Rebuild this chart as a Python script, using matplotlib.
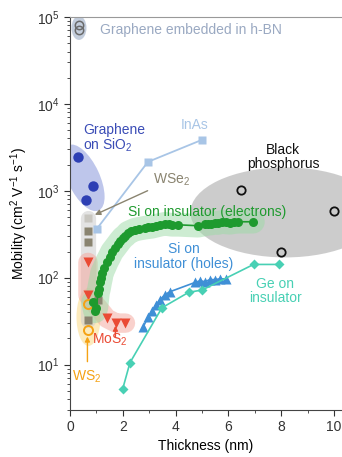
import numpy as np
import matplotlib
matplotlib.use("Agg")
import matplotlib.pyplot as plt
from matplotlib.patches import Ellipse
from matplotlib.transforms import IdentityTransform

plt.rcParams['font.family'] = ['Liberation Sans', 'DejaVu Sans']
plt.rcParams['mathtext.fontset'] = 'custom'
plt.rcParams['mathtext.rm'] = 'Liberation Sans'
plt.rcParams['mathtext.it'] = 'Liberation Sans:italic'
plt.rcParams['mathtext.default'] = 'regular'

# data (thickness in nm, mobility in cm2/Vs)
hbn_x = [0.34, 0.34]
hbn_y = [8.0e4, 7.0e4]

sio2_x = [0.30, 0.87, 0.60]
sio2_y = [2450, 1140, 790]

inas_x = [1.02, 2.95, 5.0]
inas_y = [366, 2150, 3860]

wse2_x = [0.7, 0.7, 0.7, 0.7, 1.05]
wse2_y = [490, 340, 255, 33, 56]

mos2_x = [0.68, 0.68, 1.4, 1.75, 2.1]
mos2_y = [150, 63, 34, 30, 30]

ws2_x = [0.7, 0.7]
ws2_y = [50, 25]

sie_x = [0.87, 0.95, 1.0, 1.06, 1.1, 1.14, 1.18, 1.21, 1.3, 1.4, 1.5, 1.59, 1.7,
         1.82, 1.9, 2.0, 2.1, 2.2, 2.3, 2.46, 2.6, 2.84, 2.95, 3.1, 3.25, 3.41,
         3.6, 3.75, 3.86, 4.09, 4.85, 5.1, 5.23, 5.35, 5.49, 5.6, 5.76, 5.9,
         6.06, 6.2, 6.36, 6.93]
sie_y = [52, 41, 45, 67, 75, 88, 100, 114, 130, 153, 175, 199, 220,
         246, 265, 288, 305, 329, 340, 357, 365, 376, 380, 385, 395, 406,
         417, 410, 406, 406, 396, 410, 417, 420, 428, 425, 440, 432,
         428, 435, 440, 440]

sih_x = [2.77, 2.95, 3.1, 3.26, 3.41, 3.6, 3.79, 4.73, 4.92, 5.11, 5.3, 5.49, 5.68, 5.9]
sih_y = [27, 35, 41, 49, 56, 64, 69, 88, 92, 90, 95, 95, 97, 97]

ge_x = [2.0, 2.27, 3.48, 4.5, 5.0, 6.95, 7.9]
ge_y = [5.3, 10.5, 45, 68, 72, 142, 142]

bp_x = [6.48, 10.0, 7.99]
bp_y = [1026, 589, 199]

c_hbn = '#9aa9c2'
c_sio2 = '#2d3fb4'
c_inas = '#a8c5e6'
c_wse2 = '#8a8470'
c_mos2 = '#ea4a34'
c_ws2 = '#f5a214'
c_sie = '#1e9a2e'
c_sih = '#3f8fd6'
c_ge = '#48d0b4'

fig = plt.figure(figsize=(3.42, 4.57), dpi=100)
ax = fig.add_axes([70 / 342, 47 / 457, 272 / 342, 393 / 457])
ax.set_yscale('log')
ax.set_xlim(0, 10.3)
ax.set_ylim(3, 1e5)
ax.set_autoscale_on(False)


def blob(xs, ys, w, h, angle, color, alpha, dx=0, dy=0):
    # highlight ellipse in pixels, centred on the group's points
    pts = ax.transData.transform(np.column_stack([xs, ys]))
    cx, cy = pts.mean(axis=0)
    ax.add_patch(Ellipse((cx + dx, cy + dy), w, h, angle=angle,
                         transform=IdentityTransform(), facecolor=color,
                         alpha=alpha, edgecolor='none', zorder=1))


def band(xs, ys, lw, color, alpha):
    ax.plot(xs, ys, lw=lw, color=color, alpha=alpha, solid_capstyle='round',
            solid_joinstyle='round', zorder=1)


# shaded groups
blob(hbn_x, hbn_y, 15, 24, 0, '#b5c1d4', 0.8)
blob(sio2_x, sio2_y, 32, 72, 25, '#7f8fd8', 0.5, dx=-2, dy=3)
blob(bp_x, bp_y, 190, 90, 0, '#c4c4c4', 0.85, dx=0, dy=5)
blob(ws2_x, ws2_y, 24, 58, 0, '#fbe2a0', 0.7)
band(wse2_x[:4], wse2_y[:4], 11, '#cdcdcd', 0.55)
band(mos2_x, mos2_y, 14, '#f5a59a', 0.5)
band(sie_x, sie_y, 17, '#9cdaa6', 0.5)

# series
ax.plot(hbn_x, hbn_y, 'o', ms=6, mfc='none', mec='#6a6a6a', mew=1.1, zorder=3)
ax.plot(sio2_x, sio2_y, 'o', ms=7.5, color=c_sio2, mec='none', zorder=3)
ax.plot(inas_x, inas_y, '-s', ms=6, lw=1.3, color=c_inas, mec='none', zorder=2)
ax.plot(wse2_x[:1], wse2_y[:1], 's', ms=6, color=c_wse2, alpha=0.3, mec='none', zorder=3)
ax.plot(wse2_x[1:], wse2_y[1:], 's', ms=6, color=c_wse2, mec='none', zorder=3)
ax.plot(mos2_x, mos2_y, 'v', ms=7, color=c_mos2, mec='none', zorder=3)
ax.plot(ws2_x, ws2_y, 'o', ms=6.5, mfc='none', mec=c_ws2, mew=1.4, zorder=3)
ax.plot(sie_x, sie_y, '-o', ms=6.5, lw=1.2, color=c_sie, mec='none', zorder=3)
ax.plot(sih_x, sih_y, '-^', ms=7, lw=1.2, color=c_sih, mec='none', zorder=3)
ax.plot(ge_x, ge_y, '-D', ms=5, lw=1.2, color=c_ge, mec='none', zorder=3)
ax.plot(bp_x, bp_y, 'o', ms=6, mfc='none', mec='#111111', mew=1.3, zorder=3)

# labels
fs = 10
ax.text(1.14, 7.1e4, 'Graphene embedded in h-BN', color=c_hbn, fontsize=fs, va='center')
ax.text(0.5, 3970, 'Graphene\non SiO$_2$', color='#3a4cb6', fontsize=fs, va='center',
        linespacing=1.0)
ax.text(4.73, 5740, 'InAs', color=c_inas, fontsize=fs, ha='center', va='center')
ax.text(8.07, 2455, 'Black\nphosphorus', color='#111111', fontsize=fs, ha='center',
        va='center', linespacing=1.05)
ax.annotate('WSe$_2$', xy=(wse2_x[0], wse2_y[0]), xytext=(3.14, 1337), color=c_wse2,
            fontsize=fs, va='center',
            arrowprops=dict(arrowstyle='-|>', color=c_wse2, lw=1.0, shrinkA=2, shrinkB=5,
                            mutation_scale=8))
ax.text(2.2, 574, 'Si on insulator (electrons)', color=c_sie, fontsize=fs, va='center')
ax.text(4.32, 174, 'Si on\ninsulator (holes)', color=c_sih, fontsize=fs, ha='center',
        va='center', linespacing=1.05)
ax.text(7.77, 70, 'Ge on\ninsulator', color=c_ge, fontsize=fs, ha='center', va='center',
        linespacing=1.05)
ax.text(0.83, 19.4, 'MoS$_2$', color=c_mos2, fontsize=fs, va='center')
ax.annotate('', xy=(1.72, 28), xytext=(1.72, 21),
            arrowprops=dict(arrowstyle='-|>', color=c_mos2, lw=1.0, shrinkA=0, shrinkB=0,
                            mutation_scale=7))
ax.text(0.08, 7.3, 'WS$_2$', color=c_ws2, fontsize=fs, va='center')
ax.annotate('', xy=(0.66, 21), xytext=(0.66, 10.8),
            arrowprops=dict(arrowstyle='-|>', color=c_ws2, lw=1.0, shrinkA=0, shrinkB=0,
                            mutation_scale=7))

# axes styling
ax.set_xticks([0, 2, 4, 6, 8, 10])
ax.set_xticks([1, 3, 5, 7, 9], minor=True)
ax.tick_params(which='both', direction='out', colors='#333333', labelsize=10)
ax.tick_params(which='major', length=4)
ax.tick_params(which='minor', length=2.5)
ax.spines['right'].set_visible(False)
for s in ['left', 'bottom']:
    ax.spines[s].set_color('#444444')
ax.spines['top'].set_color('#999999')
ax.set_xlabel('Thickness (nm)', fontsize=10, labelpad=3)
ax.set_ylabel('Mobility (cm$^2$ V$^{-1}$ s$^{-1}$)', fontsize=10, labelpad=5)

fig.savefig('out.png', dpi=100)
